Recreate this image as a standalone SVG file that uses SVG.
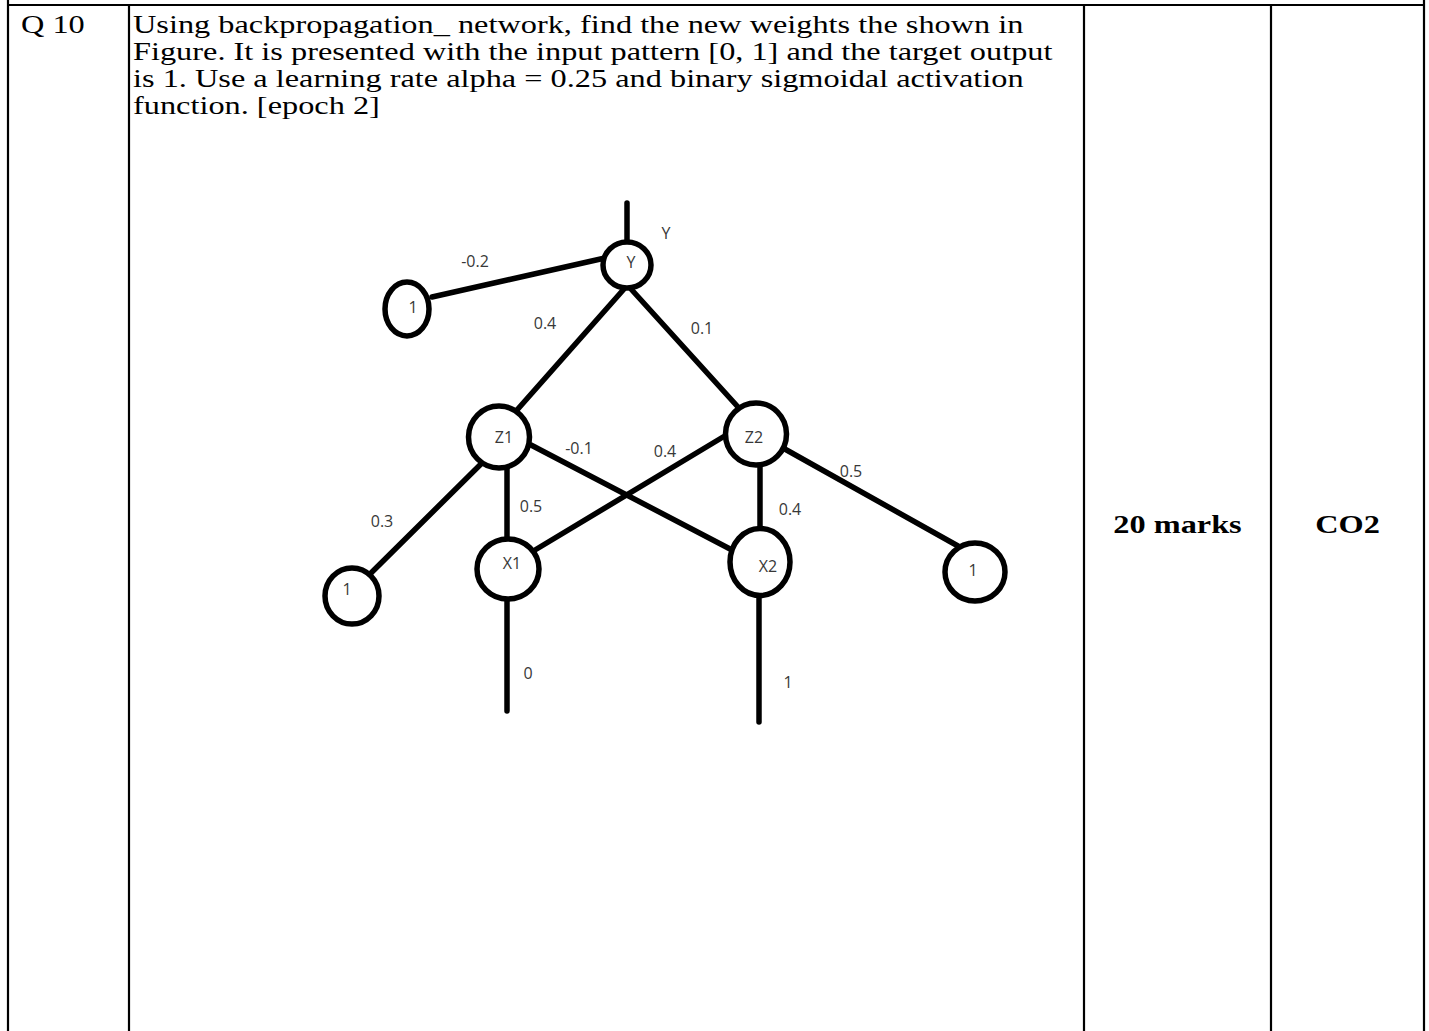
<svg xmlns="http://www.w3.org/2000/svg" width="1429" height="1031" viewBox="0 0 1429 1031">
<style>
.rule{stroke:#000;stroke-width:2.2;fill:none}
.t{font-family:"Liberation Serif","Times New Roman",serif;font-size:24.5px;fill:#000}
.b{font-weight:bold;text-anchor:middle}
.n{fill:#fff;stroke:#000;stroke-width:5.5}
.e{stroke:#000;stroke-width:5.5;fill:none;stroke-linecap:round}
.l{font-family:"Open Sans","DejaVu Sans",sans-serif;font-size:16px;fill:#383838;text-anchor:middle}
</style>
<rect width="1429" height="1031" fill="#fff"/>
<g id="table">
<line class="rule" x1="8" y1="5" x2="1424" y2="5"/>
<line class="rule" x1="8" y1="0" x2="8" y2="1031"/>
<line class="rule" x1="129" y1="5" x2="129" y2="1031"/>
<line class="rule" x1="1084" y1="5" x2="1084" y2="1031"/>
<line class="rule" x1="1271" y1="5" x2="1271" y2="1031"/>
<line class="rule" x1="1424" y1="0" x2="1424" y2="1031"/>
</g>
<g id="question-text">
<text class="t" transform="translate(21,33) scale(1.32,1)">Q 10</text>
<text class="t" transform="translate(133,33) scale(1.32,1)">Using backpropagation_ network, find the new weights the shown in</text>
<text class="t" transform="translate(133,60) scale(1.32,1)">Figure. It is presented with the input pattern [0, 1] and the target output</text>
<text class="t" transform="translate(133,87) scale(1.32,1)">is 1. Use a learning rate alpha = 0.25 and binary sigmoidal activation</text>
<text class="t" transform="translate(133,114) scale(1.32,1)">function. [epoch 2]</text>
<text class="t b" transform="translate(1177.5,533) scale(1.32,1)">20 marks</text>
<text class="t b" transform="translate(1347.5,533) scale(1.32,1)">CO2</text>
</g>
<g id="connectors">
<line class="e" x1="627" y1="203" x2="627" y2="242"/>
<line class="e" x1="432" y1="297" x2="605" y2="258"/>
<line class="e" x1="624" y1="289" x2="517" y2="410"/>
<line class="e" x1="631" y1="289" x2="738" y2="407"/>
<line class="e" x1="507" y1="460" x2="507" y2="537"/>
<line class="e" x1="760" y1="463" x2="760" y2="528"/>
<line class="e" x1="531" y1="445" x2="732" y2="550"/>
<line class="e" x1="723" y1="437" x2="535" y2="550"/>
<line class="e" x1="483" y1="462" x2="370" y2="574"/>
<line class="e" x1="783" y1="448" x2="958" y2="546"/>
<line class="e" x1="507" y1="600" x2="507" y2="711"/>
<line class="e" x1="759" y1="596" x2="759" y2="722"/>
<text class="l" x="666" y="239">Y</text>
<text class="l" x="475" y="267">-0.2</text>
<text class="l" x="545" y="329">0.4</text>
<text class="l" x="702" y="334">0.1</text>
<text class="l" x="579" y="454">-0.1</text>
<text class="l" x="665" y="457">0.4</text>
<text class="l" x="851" y="477">0.5</text>
<text class="l" x="382" y="527">0.3</text>
<text class="l" x="531" y="512">0.5</text>
<text class="l" x="790" y="515">0.4</text>
<text class="l" x="528" y="679">0</text>
<text class="l" x="788" y="688">1</text>
</g>
<g id="node-Y">
<ellipse class="n" cx="627" cy="265" rx="24" ry="23"/>
<text class="l" x="631" y="268">Y</text>
</g>
<g id="node-bias-Y">
<ellipse class="n" cx="407" cy="309" rx="22" ry="27"/>
<text class="l" x="413" y="313">1</text>
</g>
<g id="node-Z1">
<ellipse class="n" cx="499" cy="437" rx="30.5" ry="31"/>
<text class="l" x="504" y="443">Z1</text>
</g>
<g id="node-Z2">
<ellipse class="n" cx="756" cy="434" rx="30.5" ry="31"/>
<text class="l" x="754" y="443">Z2</text>
</g>
<g id="node-X1">
<ellipse class="n" cx="508" cy="569" rx="31" ry="30"/>
<text class="l" x="512" y="569">X1</text>
</g>
<g id="node-X2">
<ellipse class="n" cx="760" cy="562" rx="30" ry="33.5"/>
<text class="l" x="768" y="572">X2</text>
</g>
<g id="node-bias-Z1">
<ellipse class="n" cx="352" cy="596" rx="27" ry="28"/>
<text class="l" x="347" y="595">1</text>
</g>
<g id="node-bias-Z2">
<ellipse class="n" cx="975" cy="572" rx="30" ry="29"/>
<text class="l" x="973" y="576">1</text>
</g>
</svg>
